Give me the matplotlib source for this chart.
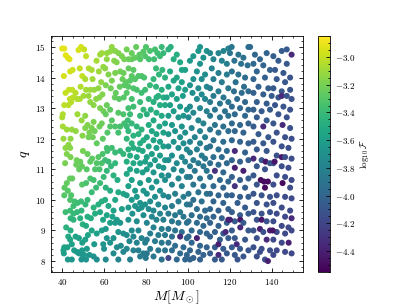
import numpy as np
import matplotlib
matplotlib.use("Agg")
from matplotlib import pyplot as plt
from matplotlib.ticker import AutoMinorLocator

plt.rcParams['font.family'] = 'serif'
plt.rcParams['font.serif'] = ['cmr10']
plt.rcParams['mathtext.fontset'] = 'cm'
plt.rcParams['axes.formatter.use_mathtext'] = True

# (M, q, log10 F), one list per 10 Msun band
band_40 = [(40,14.95,-2.92),(41,14.95,-2.92),(41.7,14.73,-2.92),(42.7,14.65,-2.93),(43.5,14.6,-2.93),
           (47.8,14.9,-2.95),(49,15.0,-2.96),(48.4,14.3,-3.0),(45,14.25,-2.98),(43.8,14.2,-2.97),
           (40.8,14.05,-2.96),(43.2,13.6,-3.0),(41.6,13.5,-3.0),(44.8,13.6,-3.01),(46.4,13.5,-3.03),
           (45.2,13.35,-3.03),(43.7,13.3,-3.02),(47.1,13.3,-3.05),(48.4,13.3,-3.06),(41,13.1,-3.02),
           (43,13.1,-3.03),(44.3,13.2,-3.03),(40.3,12.8,-3.05),(47.3,12.8,-3.09),(40,12.7,-3.06),
           (40.3,12.4,-3.08),(42.2,12.3,-3.1),(44.6,12.3,-3.11),(46.5,12.25,-3.13),(40.6,12.0,-3.11),
           (44,12.0,-3.13),(43,11.8,-3.14),(41.6,11.7,-3.14),(43.8,11.7,-3.15),(42.2,11.5,-3.17),
           (44,11.4,-3.19),(46.9,11.3,-3.22),(48.6,11.25,-3.24),(41.4,11.2,-3.19),(46.7,11.15,-3.23),
           (48.1,11.0,-3.25),(49.4,11.1,-3.26),(43.7,10.7,-3.25),(44.8,10.7,-3.26),(42.2,10.55,-3.26),
           (41.1,10.4,-3.27),(42.7,10.3,-3.29),(41,10.15,-3.3),(44.3,10.15,-3.32),(43.8,10.0,-3.33),
           (45.9,9.95,-3.36),(47.3,9.9,-3.38),(49,9.95,-3.39),(45.4,9.8,-3.37),(41.6,9.6,-3.37),
           (43.8,9.65,-3.39),(45.4,9.55,-3.41),(47.1,9.6,-3.42),(49.2,9.65,-3.43),(44,9.4,-3.43),
           (45.4,9.35,-3.45),(48.6,9.4,-3.47),(41.9,9.1,-3.46),(44,9.0,-3.5),(42.9,8.8,-3.52),
           (46.4,8.8,-3.56),(43.8,8.7,-3.55),(48,8.75,-3.58),(41,8.45,-3.56),(42.5,8.45,-3.58),
           (40.6,8.35,-3.57),(44.6,8.55,-3.58),(45.7,8.35,-3.61),(47,8.3,-3.63),(40.8,8.25,-3.6),
           (48,8.25,-3.64),(49.5,8.35,-3.64),(42.7,8.05,-3.64),(44.6,8.05,-3.66),(49.2,8.05,-3.69),
           (49.8,8.2,-3.67),(49.6,14.05,-3.0),(49.3,12.6,-3.12),(49.7,12.1,-3.16),(49.5,10.5,-3.3),
           (49.8,9.2,-3.47),(49.6,8.6,-3.6),(48.8,13.7,-3.05)]
band_50 = [(50.5,14.92,-3.0),(51.4,14.7,-3.02),(52.7,14.3,-3.05),(54.1,14.25,-3.07),(57.5,14.2,-3.1),
           (56.4,14.55,-3.08),(58.1,14.75,-3.09),(58.9,14.8,-3.1),(54.5,13.95,-3.09),(51,13.95,-3.06),
           (51.4,13.6,-3.08),(53.4,13.6,-3.1),(55.3,13.6,-3.12),(57.3,13.65,-3.13),(58.6,13.85,-3.13),
           (52.6,13.4,-3.11),(50.2,13.4,-3.09),(53.4,13.2,-3.13),(55,13.1,-3.15),(56.2,13.3,-3.15),
           (57.8,13.35,-3.16),(59.2,13.45,-3.17),(58.1,13.0,-3.19),(51,12.75,-3.14),(52.1,12.45,-3.17),
           (51,12.35,-3.17),(55,12.55,-3.19),(54.1,12.35,-3.2),(53,12.2,-3.2),(55.5,12.25,-3.22),
           (54.6,12.05,-3.23),(52.6,12.05,-3.21),(57.8,12.4,-3.23),(58.9,12.5,-3.23),(56.5,11.85,-3.26),
           (49.9,11.6,-3.2),(52.1,11.5,-3.24),(53.4,11.25,-3.27),(54.3,11.35,-3.27),(57.3,11.4,-3.3),
           (56.5,11.2,-3.31),(58.9,11.2,-3.33),(51.7,11.0,-3.29),(55.7,11.0,-3.32),(57.8,11.0,-3.34),
           (53.4,10.7,-3.34),(55,10.65,-3.36),(51.4,10.55,-3.34),(58.1,10.55,-3.39),(52.1,10.0,-3.41),
           (54.1,10.25,-3.4),(56.2,10.4,-3.4),(51.1,9.85,-3.42),(55,9.75,-3.46),(57.3,9.85,-3.47),
           (58.9,9.95,-3.47),(52.1,9.45,-3.48),(53.7,9.4,-3.5),(55.7,9.55,-3.5),(58.1,9.6,-3.52),
           (51.4,9.15,-3.51),(54.1,9.0,-3.55),(52.3,8.85,-3.56),(56.5,8.9,-3.59),(58.9,9.0,-3.6),
           (51,8.7,-3.59),(55.3,8.55,-3.63),(51.8,8.4,-3.63),(53,8.2,-3.66),(50.5,8.2,-3.65),
           (55,8.15,-3.68),(56.5,8.05,-3.7),(51.4,8.05,-3.67),(59.6,14.35,-3.12),(59.7,12.9,-3.22),
           (59.4,12.0,-3.27),(59.8,10.75,-3.4),(59.5,9.35,-3.55),(59.6,8.55,-3.66),(59.3,11.5,-3.33)]
band_60 = [(61.3,14.8,-3.12),(62.9,14.85,-3.13),(63.7,15.0,-3.13),(65.3,14.87,-3.15),(66.9,14.8,-3.17),
           (68.5,14.7,-3.19),(69.6,14.6,-3.2),(64.8,14.55,-3.16),(66,14.5,-3.17),(61.3,14.6,-3.13),
           (60.5,14.3,-3.14),(62.1,14.1,-3.17),(65.3,14.15,-3.19),(67.7,14.2,-3.21),(69.3,14.15,-3.23),
           (63.7,13.9,-3.2),(68.8,13.95,-3.24),(60.8,13.75,-3.19),(63.2,13.65,-3.22),(65.6,13.5,-3.25),
           (67.5,13.7,-3.25),(69.7,13.75,-3.27),(65.1,13.35,-3.26),(67.2,13.3,-3.28),(69.4,13.35,-3.3),
           (61.3,13.1,-3.24),(62.9,12.95,-3.27),(60.8,12.8,-3.26),(66.8,12.85,-3.3),(69.2,12.8,-3.33),
           (63.7,12.6,-3.3),(62.9,12.4,-3.31),(65.3,12.4,-3.33),(67.7,12.4,-3.35),(69.6,12.5,-3.36),
           (61.6,12.2,-3.31),(66.8,12.2,-3.36),(61.3,11.7,-3.35),(63.7,11.7,-3.37),(61.6,11.6,-3.36),
           (65.3,11.55,-3.4),(67.7,11.6,-3.41),(69.2,11.5,-3.43),(60.5,11.3,-3.37),(62.1,11.25,-3.4),
           (63.3,11.1,-3.42),(65.3,11.2,-3.43),(61.3,10.95,-3.42),(64.5,10.8,-3.46),(66.4,10.65,-3.49),
           (60.8,10.4,-3.46),(62.9,10.3,-3.49),(66.8,10.25,-3.52),(69.2,10.2,-3.55),(65.3,10.0,-3.54),
           (60.5,10.0,-3.5),(62.1,9.8,-3.53),(64.5,9.65,-3.57),(68.5,9.7,-3.6),(61.3,9.5,-3.56),
           (64,9.45,-3.59),(66.1,9.35,-3.62),(62.9,9.25,-3.62),(65.3,9.25,-3.63),(67.7,9.25,-3.65),
           (60.8,9.05,-3.63),(66.8,8.95,-3.67),(69.2,8.9,-3.7),(61.3,8.75,-3.67),(64.5,8.75,-3.69),
           (62.9,8.6,-3.69),(66.1,8.45,-3.73),(68,8.5,-3.74),(60,8.4,-3.7),(64.5,8.25,-3.74),
           (69.2,8.3,-3.77),(60.8,8.05,-3.74),(66.8,8.05,-3.78)]
band_70 = [(70.8,14.92,-3.21),(73.2,14.8,-3.24),(75.3,15.0,-3.25),(76.9,14.75,-3.28),(78.8,14.85,-3.3),
           (73.2,14.6,-3.25),(71.7,14.6,-3.23),(74.8,14.65,-3.26),(77.2,14.6,-3.29),(79.6,14.7,-3.31),
           (71.7,14.3,-3.25),(74,14.25,-3.28),(73.2,14.05,-3.28),(74.8,13.95,-3.3),(76.4,14.05,-3.31),
           (77.9,14.05,-3.32),(79.1,14.0,-3.34),(70.5,13.85,-3.27),(72.4,13.9,-3.29),(71.6,13.7,-3.29),
           (74,13.65,-3.32),(70.8,13.5,-3.3),(75.6,13.6,-3.34),(77.9,13.5,-3.37),(79.6,13.6,-3.38),
           (73.2,13.3,-3.35),(77.2,13.2,-3.39),(71.6,13.0,-3.36),(74,13.05,-3.38),(78.8,12.95,-3.42),
           (72.4,12.8,-3.39),(77.2,12.75,-3.43),(71.3,12.6,-3.39),(73.2,12.5,-3.41),(70.8,12.4,-3.4),
           (75.6,12.4,-3.44),(77.9,12.3,-3.46),(71.6,12.25,-3.42),(74,12.1,-3.45),(76.4,12.15,-3.46),
           (70.8,12.0,-3.43),(73.2,11.85,-3.46),(77.2,11.85,-3.49),(78.8,11.95,-3.5),(71.6,11.65,-3.47),
           (74,11.7,-3.49),(76.4,11.65,-3.51),(78.4,11.6,-3.53),(72.4,11.45,-3.5),(75.6,11.4,-3.53),
           (70.8,11.25,-3.5),(74,11.2,-3.53),(77.2,11.2,-3.56),(79.6,11.25,-3.57),(72.4,11.0,-3.54),
           (75.6,10.95,-3.57),(78.4,10.9,-3.6),(70.8,10.85,-3.54),(73.2,10.65,-3.58),(77.2,10.55,-3.62),
           (71.6,10.45,-3.58),(74.8,10.3,-3.62),(78.8,10.3,-3.65),(70.8,10.15,-3.6),(75.6,10.1,-3.64),
           (73.2,10.0,-3.63),(77.2,9.9,-3.67),(79.6,9.85,-3.69),(74.8,9.8,-3.66),(71.6,9.75,-3.64),
           (76.4,9.7,-3.68),(77.9,9.75,-3.69),(73.5,9.55,-3.68),(78.8,9.5,-3.72),(71.6,9.35,-3.68),
           (75.6,9.3,-3.72),(73.2,9.0,-3.73),(76.4,9.0,-3.75),(70.8,8.85,-3.73),(74,8.8,-3.76),
           (77.9,8.75,-3.79),(72.1,8.65,-3.76),(75.6,8.6,-3.79),(79.6,8.6,-3.82),(70.8,8.4,-3.77),
           (74,8.35,-3.8),(76.4,8.35,-3.82),(78.8,8.25,-3.84),(72.4,8.05,-3.82),(77.2,8.15,-3.84),
           (79.9,8.1,-3.86)]
band_80 = [(80,15.0,-3.32),(81.9,14.87,-3.34),(84.3,14.92,-3.36),(85.5,14.8,-3.37),(86.7,14.7,-3.39),
           (81.4,14.6,-3.35),(83.9,14.6,-3.37),(88.3,14.8,-3.41),(87.5,15.0,-3.4),(84.8,14.3,-3.4),
           (87.8,14.25,-3.43),(86.2,14.1,-3.43),(83.6,13.95,-3.42),(89.1,14.0,-3.46),(81.9,13.75,-3.41),
           (84.8,13.7,-3.44),(87.5,13.6,-3.47),(85.9,13.4,-3.47),(88.3,13.35,-3.5),(85,13.35,-3.47),
           (81.3,13.3,-3.44),(83.6,13.2,-3.47),(86.7,13.1,-3.5),(82.3,12.95,-3.47),(89.1,13.1,-3.52),
           (80.4,12.8,-3.47),(85,12.85,-3.5),(87.5,12.75,-3.53),(83.6,12.6,-3.52),(81.3,12.45,-3.51),
           (86.4,12.4,-3.55),(89.1,12.5,-3.57),(82.8,12.25,-3.54),(85,12.15,-3.56),(88.3,12.2,-3.58),
           (80.4,12.05,-3.53),(83.6,11.95,-3.56),(86.7,11.9,-3.59),(81.3,11.75,-3.56),(85,11.7,-3.59),
           (88.3,11.75,-3.61),(82.8,11.5,-3.6),(86.7,11.45,-3.62),(80.4,11.4,-3.58),(84.3,11.3,-3.62),
           (89.1,11.3,-3.65),(82,11.15,-3.62),(86.1,11.1,-3.65),(88.3,11.05,-3.67),(80.4,11.0,-3.62),
           (83.6,10.9,-3.65),(87.5,10.8,-3.68),(81.3,10.65,-3.65),(85,10.6,-3.68),(89.1,10.65,-3.7),
           (82.8,10.4,-3.68),(86.7,10.3,-3.71),(80.4,10.2,-3.69),(84.3,10.1,-3.72),(88.3,10.15,-3.74),
           (82,9.95,-3.72),(85.9,9.85,-3.75),(81.3,9.7,-3.74),(83.6,9.65,-3.75),(89.1,9.75,-3.78),
           (86.7,9.55,-3.78),(82.8,9.45,-3.77),(85,9.35,-3.79),(88.3,9.35,-3.81),(80.4,9.25,-3.78),
           (83.6,9.1,-3.81),(87.5,9.05,-3.83),(82,8.9,-3.82),(85.9,8.85,-3.84),(89.1,8.85,-3.86),
           (80.4,8.7,-3.83),(84.3,8.65,-3.85),(87.5,8.6,-3.87),(82,8.4,-3.86),(85.9,8.35,-3.88),
           (89.1,8.35,-3.9),(80.4,8.25,-3.87),(83.6,8.15,-3.89),(87.5,8.05,-3.91)]
band_90 = [(91.8,15.0,-3.47),(90.7,14.92,-3.46),(94.7,14.75,-3.5),(96.3,14.5,-3.53),(93.2,14.6,-3.5),
           (97.1,14.25,-3.56),(98.7,14.25,-3.58),(91.5,14.2,-3.52),(94.7,14.0,-3.55),(93.2,13.9,-3.55),
           (97.1,13.85,-3.58),(90.7,13.7,-3.54),(95.5,13.65,-3.58),(98.7,13.6,-3.61),(92.4,13.45,-3.57),
           (89.9,13.35,-3.55),(94.7,13.3,-3.6),(97.6,13.4,-3.61),(91.5,13.1,-3.6),(96.3,13.05,-3.63),
           (93.2,12.9,-3.62),(99.5,12.95,-3.66),(90.7,12.75,-3.61),(95.5,12.7,-3.65),(97.9,12.75,-3.66),
           (92.4,12.45,-3.65),(97.1,12.4,-3.68),(93.9,12.25,-3.67),(98.7,12.2,-3.7),(90.7,12.15,-3.65),
           (96.3,12.05,-3.7),(93.2,11.9,-3.69),(97.9,11.85,-3.72),(90.7,11.75,-3.69),(95.5,11.7,-3.72),
           (99.5,11.65,-3.75),(92.4,11.45,-3.72),(97.1,11.4,-3.75),(90.7,11.3,-3.72),(94.7,11.2,-3.75),
           (98.7,11.25,-3.77),(93.2,11.0,-3.76),(97.1,10.95,-3.78),(90.7,10.8,-3.75),(95.5,10.7,-3.78),
           (99.5,10.75,-3.8),(92.4,10.5,-3.79),(97.1,10.45,-3.81),(93.9,10.2,-3.82),(90.7,10.1,-3.81),
           (97.9,10.1,-3.84),(95.5,9.95,-3.84),(92.4,9.8,-3.84),(99.5,9.85,-3.87),(96.3,9.6,-3.87),
           (90.7,9.55,-3.85),(93.9,9.5,-3.87),(97.9,9.45,-3.89),(92.4,9.3,-3.88),(95.5,9.25,-3.89),
           (99.5,9.25,-3.91),(90.7,9.05,-3.89),(93.9,9.0,-3.9),(97.1,8.95,-3.92),(92.4,8.8,-3.92),
           (96.3,8.8,-4.35),(99.5,8.75,-3.95),(90.7,8.6,-3.92),(93.9,8.5,-3.94),(97.9,8.45,-3.96),
           (92.4,8.35,-3.95),(96.3,8.25,-3.97),(99.5,8.2,-3.98),(90.7,8.1,-4.2),(94.7,8.05,-3.98),
           (98.7,8.05,-3.99)]
band_100 = [(105.8,15.0,-3.66),(105,14.87,-3.66),(109,14.87,-3.69),(102.6,14.7,-3.65),(107.4,14.65,-3.69),
            (101,14.55,-3.64),(105.8,14.45,-3.68),(104.3,14.2,-3.69),(108.2,14.1,-3.72),(102.6,13.95,-3.69),
            (106.6,13.95,-3.72),(101,13.75,-3.69),(105,13.65,-3.72),(109,13.7,-3.75),(102.2,13.5,-3.72),
            (106.6,13.45,-3.75),(104.3,13.3,-3.74),(108.2,13.3,-3.77),(101,13.05,-3.74),(105.8,13.0,-3.77),
            (102.6,12.85,-3.76),(109,12.9,-3.8),(100.3,12.7,-3.75),(105,12.6,-3.78),(107.4,12.5,-3.8),
            (101.8,12.35,-3.78),(105.8,12.25,-3.8),(103.3,12.05,-3.8),(108.2,12.05,-3.83),(101,11.9,-3.8),
            (105.8,11.85,-3.83),(104.3,11.65,-3.83),(109,11.7,-3.86),(101,11.55,-3.82),(106.6,11.45,-3.85),
            (102.6,11.3,-3.84),(108.2,11.35,-3.87),(105,11.2,-3.86),(101,11.1,-3.85),(107.4,11.1,-3.88),
            (103.3,10.95,-3.87),(109,10.95,-3.9),(101,10.75,-3.87),(105.8,10.7,-3.89),(102.6,10.5,-3.89),
            (107.4,10.45,-3.91),(105,10.25,-3.91),(100.3,10.2,-3.89),(109,10.2,-3.93),(102.6,10.0,-3.92),
            (106.6,9.95,-3.93),(101,9.85,-3.92),(104.3,9.7,-3.94),(108.2,9.65,-3.96),(101.8,9.5,-3.94),
            (105.8,9.45,-3.96),(109,9.4,-3.98),(100.3,9.3,-3.94),(104.3,9.25,-3.96),(107.4,9.15,-3.98),
            (101.8,9.0,-3.97),(105.8,8.95,-3.99),(109,8.9,-4.0),(100.3,8.8,-3.97),(104.3,8.75,-4.4),
            (101.8,8.6,-3.99),(105.8,8.5,-4.01),(109,8.45,-4.03),(101,8.35,-4.0),(105,8.3,-4.02),
            (107.4,8.2,-4.03),(102.6,8.1,-4.02),(105.8,8.05,-4.03),(101,8.05,-4.01)]
band_110 = [(110.6,14.8,-3.76),(114.6,14.8,-3.78),(117,14.87,-3.79),(119.3,14.95,-3.8),(112.2,14.6,-3.78),
            (116.2,14.55,-3.8),(118.6,14.45,-3.82),(111.4,14.3,-3.79),(114.6,14.15,-3.82),(118.6,14.1,-3.84),
            (112.2,13.95,-3.82),(116.2,13.85,-3.85),(110.6,13.65,-3.83),(114.6,13.55,-3.85),(119.3,13.65,-3.87),
            (112.2,13.4,-3.85),(117,13.35,-3.88),(110.6,13.2,-3.85),(115.3,13.15,-3.88),(119.3,13.2,-3.9),
            (112.9,12.95,-3.88),(117.7,12.9,-3.9),(110.6,12.75,-3.87),(115.3,12.7,-3.9),(119.3,12.75,-3.92),
            (112.9,12.45,-3.9),(116.9,12.4,-3.92),(110.6,12.3,-3.89),(114.6,12.2,-3.92),(119.3,12.25,-3.94),
            (112.2,11.95,-3.92),(116.9,11.9,-3.95),(110.6,11.75,-3.92),(114.6,11.65,-3.94),(118.6,11.6,-3.96),
            (112.2,11.4,-3.94),(116.2,11.4,-3.96),(110.6,11.2,-3.94),(114.6,11.15,-3.96),(118.6,11.2,-3.98),
            (112.9,10.95,-4.3),(116.9,10.9,-3.98),(110.6,10.75,-3.96),(115.3,10.65,-3.98),(119.3,10.6,-4.0),
            (112.2,10.45,-3.98),(116.9,10.4,-4.0),(110.6,10.2,-3.98),(114.6,10.15,-4.0),(118.6,10.15,-4.01),
            (112.2,9.95,-4.0),(116.9,9.9,-4.02),(110.6,9.7,-4.0),(114.6,9.65,-4.02),(119.3,9.7,-4.03),
            (112.2,9.45,-4.02),(116.2,9.4,-4.03),(110.6,9.25,-4.02),(114.6,9.15,-4.03),(118.6,9.25,-4.04),
            (112.9,8.95,-4.04),(116.9,8.9,-4.05),(110.6,8.8,-4.04),(115.3,8.7,-4.05),(119.3,8.75,-4.06),
            (112.9,8.45,-4.06),(116.9,8.4,-4.07),(110.6,8.25,-4.06),(114.6,8.2,-4.35),(118.6,8.25,-4.08),
            (112.9,8.05,-4.07),(116.2,8.05,-4.08),(114.6,8.55,-4.4),(119.3,9.35,-4.4),(118,8.95,-4.35)]
band_120 = [(120.9,15.0,-3.88),(120.1,14.8,-3.88),(124.1,14.75,-3.9),(126.5,14.65,-3.92),(128.9,15.0,-3.93),
            (122.2,14.55,-3.9),(125.4,14.45,-3.92),(128.5,14.4,-3.94),(121,14.2,-3.91),(124.1,14.1,-3.93),
            (127.3,14.0,-3.95),(122.8,13.85,-3.93),(126.8,13.7,-3.95),(122,13.55,-3.94),(125.7,13.5,-3.96),
            (128.9,13.55,-3.97),(123.5,13.3,-3.96),(127.3,13.2,-3.98),(121,13.05,-3.96),(124.9,13.0,-3.97),
            (128.9,12.95,-3.99),(122.4,12.8,-3.97),(127.3,12.75,-3.99),(121,12.5,-3.98),(124.9,12.45,-3.99),
            (128.9,12.5,-4.01),(122.4,12.25,-3.99),(126.5,12.2,-4.01),(121,11.95,-4.0),(124.9,11.9,-4.01),
            (128.9,11.85,-4.03),(122.4,11.6,-4.35),(127.3,11.55,-4.03),(121,11.3,-4.01),(124.9,11.25,-4.03),
            (128.9,11.3,-4.04),(122.4,11.05,-4.4),(126.5,10.95,-4.4),(121,10.75,-4.03),(124.9,10.65,-4.04),
            (128.9,10.7,-4.05),(122.4,10.45,-4.3),(127.3,10.4,-4.05),(121,10.15,-4.04),(124.9,10.1,-4.05),
            (128.9,10.1,-4.06),(123.7,9.9,-4.05),(127.3,9.75,-4.06),(121,9.6,-4.05),(124.9,9.5,-4.06),
            (128.9,9.55,-4.07),(122.4,9.3,-4.06),(125,9.35,-4.45),(126.5,9.25,-4.07),(120.1,9.35,-4.4),
            (121,9.0,-4.07),(125,9.1,-4.35),(128.9,9.0,-4.08),(122.4,8.75,-4.08),(127.3,8.7,-4.09),
            (123.3,8.55,-4.35),(121,8.45,-4.08),(124.9,8.4,-4.09),(128.9,8.35,-4.1),(122.4,8.2,-4.09),
            (126.5,8.15,-4.1),(123.7,8.05,-4.1)]
band_130 = [(129.7,15.0,-3.97),(132,14.75,-3.98),(134.4,14.6,-4.0),(137.6,14.8,-4.01),(131.3,14.45,-3.99),
            (136,14.4,-4.01),(139.2,14.25,-4.03),(132.9,14.2,-4.0),(131.3,13.95,-4.01),(136.8,14.0,-4.03),
            (133.7,13.7,-4.03),(138.4,13.65,-4.05),(131.3,13.5,-4.03),(136,13.45,-4.05),(140,13.4,-4.06),
            (132.9,13.2,-4.04),(137.6,13.15,-4.06),(131.3,12.95,-4.05),(135.2,12.9,-4.06),(139.2,12.95,-4.07),
            (132.9,12.7,-4.06),(137.6,12.6,-4.07),(131.3,12.4,-4.06),(136,12.4,-4.35),(133.7,12.15,-4.07),
            (138.4,12.05,-4.08),(131.3,11.9,-4.07),(136,11.85,-4.08),(132.9,11.65,-4.08),(137.6,11.6,-4.09),
            (131.3,11.35,-4.35),(135.2,11.3,-4.09),(137.1,11.25,-4.45),(139.2,11.2,-4.1),(132.9,11.1,-4.09),
            (136.8,11.0,-4.1),(131.3,10.8,-4.09),(134.8,10.65,-4.5),(136.3,10.6,-4.5),(138.2,10.6,-4.5),
            (132.9,10.5,-4.1),(136.8,10.4,-4.5),(131.3,10.2,-4.1),(135.2,10.15,-4.11),(139.2,10.1,-4.12),
            (132.9,9.9,-4.11),(137.6,9.85,-4.12),(131.3,9.6,-4.11),(135.2,9.55,-4.12),(139.2,9.6,-4.13),
            (132.9,9.35,-4.12),(135.2,9.35,-4.45),(137.6,9.3,-4.13),(131.3,9.0,-4.12),(134.4,9.05,-4.4),
            (136,8.95,-4.13),(139.2,9.0,-4.4),(132.9,8.75,-4.13),(137.6,8.7,-4.35),(131.3,8.45,-4.13),
            (135.2,8.4,-4.14),(139.2,8.35,-4.15),(132.9,8.15,-4.14),(136.8,8.05,-4.15),(134.4,8.3,-4.14),
            (138.2,8.0,-4.4)]
band_140 = [(140.8,14.7,-4.05),(144.8,14.87,-4.06),(147.2,14.92,-4.07),(149.5,14.75,-4.35),(143.2,14.55,-4.06),
            (147.2,14.45,-4.08),(141.6,14.25,-4.07),(145.6,14.15,-4.08),(148.8,14.0,-4.1),(142.4,13.95,-4.08),
            (146.4,13.85,-4.09),(140.8,13.65,-4.08),(144.8,13.55,-4.1),(148.8,13.6,-4.11),(143.2,13.35,-4.1),
            (144.8,13.4,-4.35),(147.2,13.4,-4.11),(149.5,13.3,-4.12),(141.6,13.1,-4.1),(145.6,13.05,-4.11),
            (148.8,12.95,-4.12),(143.2,12.8,-4.11),(147.2,12.7,-4.12),(140.8,12.5,-4.11),(145.2,12.45,-4.35),
            (148.8,12.35,-4.13),(142.4,12.2,-4.12),(146.4,12.05,-4.13),(149.5,12.0,-4.14),(140.8,11.9,-4.12),
            (144.8,11.75,-4.13),(148,11.7,-4.14),(142.4,11.45,-4.13),(144.8,11.4,-4.45),(146.4,11.4,-4.14),
            (149.5,11.35,-4.15),(140.8,11.2,-4.13),(141.4,11.25,-4.45),(144.8,11.1,-4.14),(148,11.05,-4.15),
            (142.4,10.8,-4.14),(146.4,10.75,-4.15),(149.5,10.65,-4.16),(140.8,10.5,-4.14),(145.2,10.55,-4.5),
            (148.8,10.4,-4.16),(142.4,10.15,-4.15),(146.4,10.1,-4.16),(149.5,10.05,-4.17),(140.8,9.9,-4.15),
            (144.8,9.75,-4.16),(148.8,9.65,-4.17),(142.4,9.55,-4.16),(146.4,9.45,-4.17),(149.5,9.4,-4.35),
            (140.8,9.3,-4.16),(144.8,9.15,-4.17),(148,9.1,-4.17),(142.4,8.95,-4.17),(140.5,9.0,-4.45),
            (146.4,8.9,-4.17),(149.5,9.0,-4.18),(140.8,8.7,-4.17),(144.8,8.6,-4.18),(148.1,8.6,-4.4),
            (142.4,8.35,-4.18),(146.4,8.3,-4.18),(149.5,8.25,-4.19),(140.8,8.2,-4.18)]

bands = [band_40, band_50, band_60, band_70, band_80, band_90,
         band_100, band_110, band_120, band_130, band_140]
pts = np.array([p for b in bands for p in b])
mass, ratio, logF = pts[:, 0], pts[:, 1], pts[:, 2]

fig = plt.figure(figsize=(4.07, 3.05), dpi=100)
ax = fig.add_axes([0.1246, 0.109, 0.62, 0.772])
cax = fig.add_axes([0.781, 0.109, 0.030, 0.772])

sc = ax.scatter(mass, ratio, c=logF, cmap='viridis', s=19, linewidths=0,
                vmin=-4.55, vmax=-2.85)

ax.set_xticks([40, 60, 80, 100, 120, 140])
ax.set_yticks([8, 9, 10, 11, 12, 13, 14, 15])
ax.xaxis.set_minor_locator(AutoMinorLocator())
ax.yaxis.set_minor_locator(AutoMinorLocator())
ax.tick_params(which='both', direction='in', top=True, right=True, labelsize=6.5)
ax.tick_params(which='major', length=3, width=0.6)
ax.tick_params(which='minor', length=1.5, width=0.5)
for s in ax.spines.values():
    s.set_linewidth(0.6)
ax.set_xlabel(r'$M[M_\odot]$', fontsize=10, labelpad=1)
ax.set_ylabel(r'$q$', fontsize=10, labelpad=2)

cb = fig.colorbar(sc, cax=cax)
cb.set_ticks([-3.0, -3.2, -3.4, -3.6, -3.8, -4.0, -4.2, -4.4])
cb.ax.yaxis.set_minor_locator(AutoMinorLocator())
cb.ax.tick_params(which='both', direction='in', labelsize=6.5, width=0.6)
cb.ax.tick_params(which='major', length=3)
cb.ax.tick_params(which='minor', length=1.5)
cb.outline.set_linewidth(0.6)
cb.set_label(r'$\log_{10}\mathcal{F}$', fontsize=6.5, labelpad=2)

fig.savefig('out.png', dpi=100)
